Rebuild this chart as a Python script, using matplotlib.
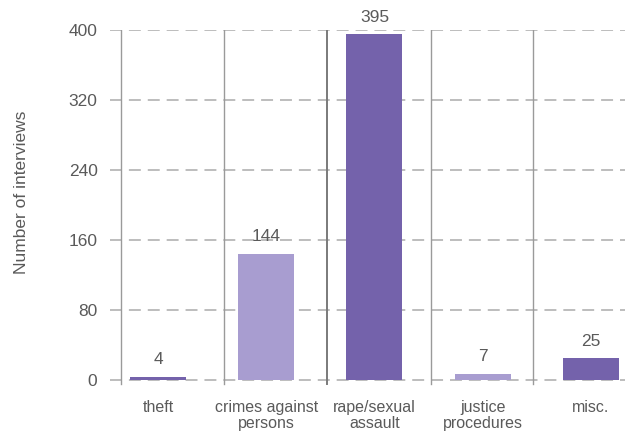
import matplotlib
matplotlib.use('Agg')
import matplotlib.pyplot as plt
import numpy as np

# interview counts by offence category
categories = ['theft', 'crimes against\npersons', 'rape/sexual\nassault', 'justice\nprocedures', 'misc.']
counts = [4, 144, 395, 7, 25]
yticks = [0, 80, 160, 240, 320, 400]

dark = '#7462ab'
light = '#a89dd0'
colors = [dark, light, dark, light, dark]

plt.rcParams['font.family'] = ['Liberation Sans', 'DejaVu Sans']
plt.rcParams['lines.scale_dashes'] = False
text_col = '#5a5a5a'

fig = plt.figure(figsize=(6.25, 4.34), dpi=100)
ax = fig.add_axes([0.176, 0.108, 0.824, 0.823])

x = np.arange(len(categories))
ax.set_xlim(-0.443, 4.314)
ax.set_ylim(-8, 400)

# dashed horizontal guides
for t in yticks:
    ax.axhline(t, color='#b8b8b8', lw=1.3, dashes=(8.6, 5), zorder=1)

# vertical separators between groups
seps = [-0.343, 0.611, 1.565, 2.518, 3.463]
for i, s in enumerate(seps):
    ax.plot([s, s], [-4, 400], color='#7a7a7a' if i == 2 else '#9a9a9a',
            lw=1.4 if i == 2 else 1.0, zorder=1)

ax.bar(x, counts, width=0.517, color=colors, zorder=2)
for xi, c in zip(x, counts):
    ax.text(xi, c + 11, str(c), ha='center', va='bottom', fontsize=12.5,
            color=text_col, clip_on=False)

for s in ax.spines.values():
    s.set_visible(False)
ax.set_yticks(yticks)
ax.set_yticklabels([str(t) for t in yticks], fontsize=12.5, color=text_col)
ax.tick_params(axis='y', length=0, pad=9)
ax.set_xticks(x)
ax.set_xticklabels(categories, fontsize=11.5, color=text_col, linespacing=1.15)
ax.tick_params(axis='x', length=0, pad=9)
ax.set_ylabel('Number of interviews', fontsize=12.5, color=text_col)
ax.yaxis.set_label_coords(-0.158, 0.546)

fig.savefig('out.png', dpi=100)
